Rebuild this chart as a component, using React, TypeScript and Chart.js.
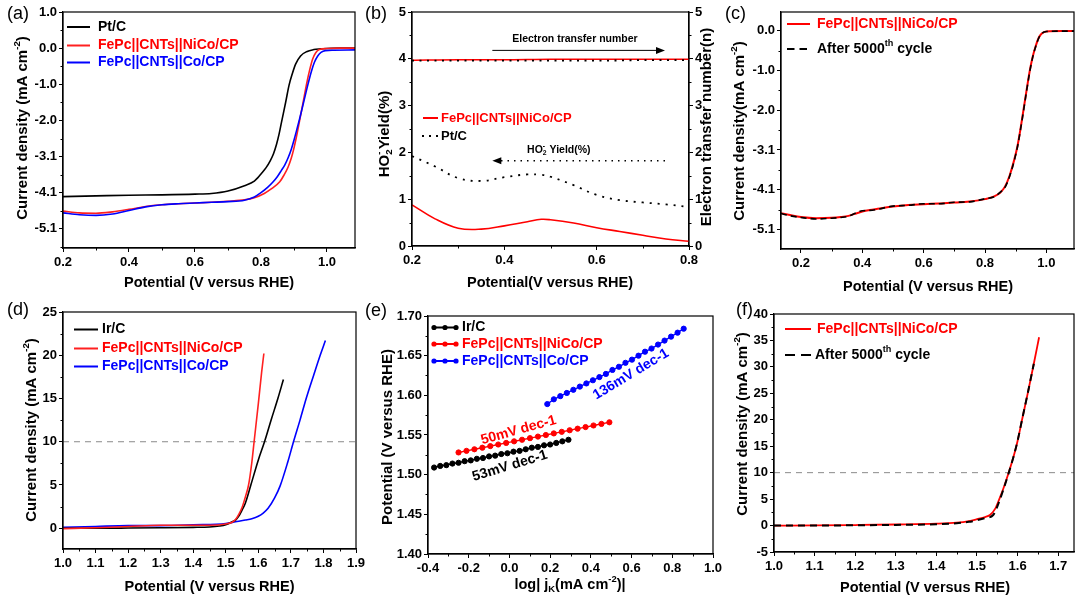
import React, { useEffect, useRef } from 'react';
import { Chart, registerables } from 'chart.js';

Chart.register(...registerables);

const W = 1080;
const H = 597;
const FONT = 'Arial, "Liberation Sans", Helvetica, sans-serif';
const RED = '#ff0000';
const BLUE = '#0000ff';
const BLACK = '#000000';
const GRAY = '#8a8a8a';

// ================= (a) ORR polarization =================
const aPotPt = [0.20, 0.30, 0.40, 0.50, 0.60, 0.65, 0.70, 0.75, 0.78, 0.79, 0.80, 0.815, 0.828, 0.838, 0.847, 0.855, 0.862, 0.875, 0.885, 0.895, 0.905, 0.92, 0.938, 0.96, 0.98, 1.00, 1.04, 1.085];
const aCurPt = [-4.19, -4.17, -4.15, -4.14, -4.12, -4.10, -4.03, -3.88, -3.75, -3.66, -3.55, -3.38, -3.18, -2.98, -2.72, -2.42, -2.10, -1.52, -1.05, -0.72, -0.45, -0.22, -0.10, -0.04, -0.02, -0.01, 0.0, 0.0];
const aPotNiCo = [0.20, 0.25, 0.30, 0.35, 0.40, 0.45, 0.50, 0.55, 0.60, 0.65, 0.70, 0.75, 0.78, 0.81, 0.83, 0.857, 0.87, 0.882, 0.892, 0.90, 0.908, 0.917, 0.928, 0.938, 0.948, 0.957, 0.966, 0.977, 1.00, 1.04, 1.085];
const aCurNiCo = [-4.60, -4.65, -4.66, -4.62, -4.55, -4.47, -4.42, -4.39, -4.37, -4.35, -4.32, -4.28, -4.22, -4.10, -3.98, -3.77, -3.58, -3.36, -3.10, -2.82, -2.48, -2.05, -1.52, -1.02, -0.60, -0.30, -0.13, -0.04, -0.01, 0.0, 0.0];
const aPotCo = [0.20, 0.25, 0.30, 0.35, 0.40, 0.45, 0.50, 0.55, 0.60, 0.65, 0.70, 0.75, 0.78, 0.80, 0.82, 0.837, 0.85, 0.862, 0.872, 0.882, 0.892, 0.90, 0.908, 0.917, 0.93, 0.943, 0.953, 0.962, 0.972, 0.982, 0.995, 1.02, 1.085];
const aCurCo = [-4.65, -4.70, -4.72, -4.68, -4.58, -4.48, -4.42, -4.39, -4.37, -4.35, -4.33, -4.29, -4.20, -4.08, -3.93, -3.77, -3.62, -3.45, -3.30, -3.10, -2.85, -2.60, -2.32, -2.00, -1.50, -1.00, -0.65, -0.40, -0.22, -0.12, -0.07, -0.06, -0.05];
const aXTicks = [0.2, 0.4, 0.6, 0.8, 1.0];
const aXLabels = ['0.2', '0.4', '0.6', '0.8', '1.0'];
const aYTicks = [-5.10, -4.08, -3.06, -2.04, -1.02, 0, 1.02];
const aYLabels = ['-5.1', '-4.1', '-3.1', '-2.0', '-1.0', '0.0', '1.0'];

// ================= (b) RRDE =================
const bPot = [0.20, 0.25, 0.30, 0.35, 0.40, 0.45, 0.48, 0.50, 0.55, 0.60, 0.65, 0.70, 0.75, 0.80];
const bYieldNiCo = [0.88, 0.58, 0.38, 0.36, 0.43, 0.52, 0.57, 0.56, 0.49, 0.39, 0.31, 0.23, 0.15, 0.10];
const bYieldPt = [1.92, 1.70, 1.45, 1.39, 1.47, 1.53, 1.52, 1.48, 1.30, 1.09, 0.98, 0.93, 0.89, 0.83];
const bNPot = [0.20, 0.30, 0.40, 0.50, 0.60, 0.70, 0.80];
const bNNiCo = [3.97, 3.98, 3.98, 3.99, 3.99, 3.99, 3.99];
const bNPt = [3.96, 3.96, 3.96, 3.96, 3.96, 3.97, 3.97];
const bXTicks = [0.2, 0.4, 0.6, 0.8];
const bXLabels = ['0.2', '0.4', '0.6', '0.8'];
const bYTicks = [0, 1, 2, 3, 4, 5];
const bYLabels = ['0', '1', '2', '3', '4', '5'];

// ================= (c) ORR stability =================
const cPot = [0.135, 0.16, 0.20, 0.25, 0.30, 0.33, 0.355, 0.375, 0.40, 0.425, 0.45, 0.50, 0.55, 0.60, 0.65, 0.70, 0.75, 0.80, 0.83, 0.85, 0.865, 0.88, 0.895, 0.906, 0.916, 0.926, 0.936, 0.946, 0.956, 0.965, 0.975, 0.985, 1.00, 1.05, 1.09];
const cCurFresh = [-4.68, -4.72, -4.78, -4.81, -4.80, -4.78, -4.75, -4.70, -4.64, -4.60, -4.57, -4.51, -4.47, -4.45, -4.43, -4.41, -4.38, -4.32, -4.25, -4.15, -4.00, -3.72, -3.32, -2.95, -2.50, -2.00, -1.50, -1.02, -0.65, -0.40, -0.18, -0.07, -0.02, -0.01, -0.01];
const cCurCycled = [-4.69, -4.74, -4.79, -4.83, -4.81, -4.79, -4.76, -4.69, -4.62, -4.61, -4.58, -4.50, -4.48, -4.44, -4.44, -4.40, -4.39, -4.31, -4.26, -4.14, -4.02, -3.74, -3.34, -2.97, -2.52, -2.03, -1.52, -1.04, -0.66, -0.41, -0.19, -0.07, -0.02, -0.01, -0.01];
const cXTicks = [0.2, 0.4, 0.6, 0.8, 1.0];
const cXLabels = ['0.2', '0.4', '0.6', '0.8', '1.0'];
const cYTicks = [-5.10, -4.08, -3.06, -2.04, -1.02, 0];
const cYLabels = ['-5.1', '-4.1', '-3.1', '-2.0', '-1.0', '0.0'];

// ================= (d) OER polarization =================
const dPotIr = [1.00, 1.10, 1.20, 1.30, 1.40, 1.45, 1.48, 1.50, 1.52, 1.53, 1.54, 1.55, 1.56, 1.577, 1.60, 1.619, 1.64, 1.66, 1.677];
const dCurIr = [0.00, 0.00, 0.02, 0.05, 0.10, 0.15, 0.25, 0.40, 0.75, 0.95, 1.40, 2.10, 2.90, 5.00, 7.90, 10.00, 12.60, 15.00, 17.20];
const dPotNiCo = [1.00, 1.10, 1.20, 1.30, 1.40, 1.45, 1.50, 1.52, 1.53, 1.54, 1.55, 1.56, 1.57, 1.58, 1.587, 1.60, 1.61, 1.617];
const dCurNiCo = [-0.05, 0.05, 0.20, 0.35, 0.35, 0.35, 0.50, 0.70, 1.00, 1.60, 2.40, 3.60, 5.00, 7.60, 10.00, 14.40, 18.00, 20.20];
const dPotCo = [1.00, 1.10, 1.20, 1.30, 1.40, 1.50, 1.53, 1.56, 1.58, 1.60, 1.615, 1.63, 1.65, 1.667, 1.69, 1.708, 1.728, 1.747, 1.77, 1.79, 1.806];
const dCurCo = [0.10, 0.20, 0.30, 0.30, 0.40, 0.55, 0.75, 0.95, 1.10, 1.38, 1.75, 2.30, 3.50, 4.90, 7.60, 10.00, 12.50, 15.00, 17.70, 20.00, 21.70];
const dRefPot = [1.0, 1.9];
const dRefCur = [10, 10];
const dXTicks = [1.0, 1.1, 1.2, 1.3, 1.4, 1.5, 1.6, 1.7, 1.8, 1.9];
const dXLabels = ['1.0', '1.1', '1.2', '1.3', '1.4', '1.5', '1.6', '1.7', '1.8', '1.9'];
const dYTicks = [0, 5, 10, 15, 20, 25];
const dYLabels = ['0', '5', '10', '15', '20', '25'];

// ================= (e) Tafel =================
const eLogIr = [-0.37, -0.34, -0.31, -0.28, -0.25, -0.22, -0.19, -0.16, -0.13, -0.10, -0.07, -0.04, -0.01, 0.02, 0.05, 0.08, 0.11, 0.14, 0.17, 0.20, 0.23, 0.26, 0.29];
const ePotIr = [1.509, 1.511, 1.512, 1.514, 1.515, 1.517, 1.518, 1.520, 1.521, 1.523, 1.524, 1.526, 1.527, 1.529, 1.530, 1.532, 1.534, 1.535, 1.537, 1.538, 1.540, 1.542, 1.544];
const eLogNiCo = [-0.25, -0.211, -0.172, -0.133, -0.094, -0.055, -0.016, 0.023, 0.062, 0.101, 0.14, 0.179, 0.218, 0.257, 0.296, 0.335, 0.374, 0.413, 0.452, 0.491];
const ePotNiCo = [1.528, 1.530, 1.532, 1.534, 1.536, 1.538, 1.540, 1.542, 1.544, 1.546, 1.548, 1.550, 1.552, 1.554, 1.556, 1.558, 1.560, 1.562, 1.564, 1.566];
const eLogCo = [0.186, 0.218, 0.25, 0.282, 0.314, 0.346, 0.378, 0.41, 0.442, 0.474, 0.506, 0.538, 0.57, 0.602, 0.634, 0.666, 0.698, 0.73, 0.762, 0.794, 0.826, 0.856];
const ePotCo = [1.589, 1.595, 1.599, 1.603, 1.607, 1.611, 1.615, 1.619, 1.623, 1.627, 1.632, 1.636, 1.641, 1.645, 1.650, 1.655, 1.659, 1.664, 1.669, 1.674, 1.679, 1.684];
const eXTicks = [-0.4, -0.2, 0, 0.2, 0.4, 0.6, 0.8, 1.0];
const eXLabels = ['-0.4', '-0.2', '0.0', '0.2', '0.4', '0.6', '0.8', '1.0'];
const eYTicks = [1.40, 1.45, 1.50, 1.55, 1.60, 1.65, 1.70];
const eYLabels = ['1.40', '1.45', '1.50', '1.55', '1.60', '1.65', '1.70'];

// ================= (f) OER stability =================
const fPot = [1.00, 1.10, 1.20, 1.30, 1.40, 1.45, 1.48, 1.50, 1.52, 1.532, 1.545, 1.555, 1.565, 1.578, 1.59, 1.60, 1.611, 1.625, 1.64, 1.653];
const fCurFresh = [0.00, 0.02, 0.10, 0.20, 0.35, 0.55, 0.85, 1.20, 1.60, 2.00, 3.20, 5.00, 7.00, 10.00, 13.00, 16.00, 20.00, 25.00, 30.60, 35.60];
const fPotCycled = [1.00, 1.10, 1.20, 1.30, 1.40, 1.45, 1.48, 1.50, 1.52, 1.54, 1.555, 1.565, 1.578, 1.59, 1.60, 1.611, 1.625, 1.64];
const fCurCycled = [0.00, 0.00, 0.05, 0.12, 0.25, 0.45, 0.70, 1.00, 1.40, 2.00, 4.60, 6.80, 9.90, 13.00, 16.00, 20.00, 25.00, 30.60];
const fRefPot = [1.0, 1.74];
const fRefCur = [10, 10];
const fXTicks = [1.0, 1.1, 1.2, 1.3, 1.4, 1.5, 1.6, 1.7];
const fXLabels = ['1.0', '1.1', '1.2', '1.3', '1.4', '1.5', '1.6', '1.7'];
const fYTicks = [-5, 0, 5, 10, 15, 20, 25, 30, 35, 40];
const fYLabels = ['-5', '0', '5', '10', '15', '20', '25', '30', '35', '40'];

// ================= helpers =================
type Seg = { t: string; sup?: boolean; sub?: boolean; stack?: boolean };

const plain = (t: string): Seg[] => [{ t }];
const cmUnit = (prefix: string): Seg[] => [{ t: prefix + '(mA cm' }, { t: '-2', sup: true }, { t: ')' }];
const afterCycle: Seg[] = [{ t: 'After 5000' }, { t: 'th', sup: true }, { t: ' cycle' }];
const NICO = 'FePc||CNTs||NiCo/CP';
const CO = 'FePc||CNTs||Co/CP';

function drawRich(
  ctx: CanvasRenderingContext2D,
  segs: Seg[],
  x: number,
  y: number,
  size: number,
  color: string,
  opts: { rot?: number; align?: 'left' | 'center'; weight?: string } = {}
) {
  const weight = opts.weight ?? 'bold';
  const small = size * 0.65;
  ctx.save();
  ctx.translate(x, y);
  ctx.rotate(opts.rot ?? 0);
  ctx.fillStyle = color;
  ctx.textBaseline = 'middle';
  ctx.textAlign = 'left';
  let total = 0;
  let lastStart = 0;
  let lastW = 0;
  const items: { s: Seg; sx: number; fs: number }[] = [];
  for (const s of segs) {
    const fs = s.sup || s.sub ? small : size;
    ctx.font = `${weight} ${fs}px ${FONT}`;
    const w = ctx.measureText(s.t).width;
    let sx: number;
    if (s.stack) {
      sx = lastStart;
      total = lastStart + Math.max(lastW, w);
    } else {
      sx = total;
      lastStart = sx;
      lastW = w;
      total += w;
    }
    items.push({ s, sx, fs });
  }
  const x0 = (opts.align ?? 'center') === 'center' ? -total / 2 : 0;
  for (const it of items) {
    ctx.font = `${weight} ${it.fs}px ${FONT}`;
    const dy = it.s.sup ? -size * 0.36 : it.s.sub ? size * 0.3 : 0;
    ctx.fillText(it.s.t, x0 + it.sx, dy);
  }
  ctx.restore();
}

interface AxisSpec {
  min: number;
  max: number;
  ticks: number[];
  labels: string[];
  minor: number;
}
interface LegendItem {
  segs: Seg[];
  color: string;
  line: string;
  style: 'solid' | 'dash' | 'dot' | 'marker';
  x0: number;
  x1: number;
  y: number;
  tx: number;
  size: number;
  dash?: number[];
}
interface TextNote {
  segs: Seg[];
  x: number;
  y: number;
  axis: string;
  rot: number;
  color: string;
  size: number;
}
interface ArrowNote {
  x0: number;
  x1: number;
  y: number;
  axis: string;
  dotted: boolean;
}
interface Title {
  segs: Seg[];
  x: number;
  y: number;
}
interface Deco {
  label: { t: string; x: number; y: number };
  xTitle: Title;
  yTitle: Title;
  y1Title?: Title;
  legend: LegendItem[];
  texts?: TextNote[];
  arrows?: ArrowNote[];
}
interface PanelSpec {
  plot: [number, number, number, number];
  x: AxisSpec;
  y: AxisSpec;
  y1?: AxisSpec;
  datasets: any[];
  deco: Deco;
}

function minorValues(a: AxisSpec) {
  const out: number[] = [];
  const k0 = Math.ceil(a.min / a.minor - 1e-6);
  const k1 = Math.floor(a.max / a.minor + 1e-6);
  for (let k = k0; k <= k1; k++) {
    const v = k * a.minor;
    if (a.ticks.some((m) => Math.abs(m - v) < a.minor * 0.05)) continue;
    out.push(v);
  }
  return out;
}

function decoPlugin(spec: PanelSpec) {
  const d = spec.deco;
  return {
    id: 'deco',
    afterDraw(chart: any) {
      const ctx: CanvasRenderingContext2D = chart.ctx;
      const ca = chart.chartArea;
      const sc = chart.scales;
      ctx.save();
      // frame
      ctx.setLineDash([]);
      ctx.strokeStyle = '#000';
      ctx.lineWidth = 1.2;
      ctx.strokeRect(ca.left, ca.top, ca.right - ca.left, ca.bottom - ca.top);
      // minor ticks
      ctx.lineWidth = 1;
      ctx.beginPath();
      for (const v of minorValues(spec.x)) {
        const px = Math.round(sc.x.getPixelForValue(v)) + 0.5;
        ctx.moveTo(px, ca.bottom);
        ctx.lineTo(px, ca.bottom + 2.5);
      }
      for (const v of minorValues(spec.y)) {
        const py = Math.round(sc.y.getPixelForValue(v)) + 0.5;
        ctx.moveTo(ca.left - 2.5, py);
        ctx.lineTo(ca.left, py);
      }
      if (spec.y1) {
        for (const v of minorValues(spec.y1)) {
          const py = Math.round(sc.y1.getPixelForValue(v)) + 0.5;
          ctx.moveTo(ca.right, py);
          ctx.lineTo(ca.right + 2.5, py);
        }
      }
      ctx.stroke();
      // panel label
      ctx.fillStyle = '#000';
      ctx.font = `18px ${FONT}`;
      ctx.textBaseline = 'middle';
      ctx.textAlign = 'left';
      ctx.fillText(d.label.t, d.label.x, d.label.y);
      // axis titles
      drawRich(ctx, d.xTitle.segs, d.xTitle.x, d.xTitle.y, 14.5, '#000');
      drawRich(ctx, d.yTitle.segs, d.yTitle.x, d.yTitle.y, 15, '#000', { rot: -Math.PI / 2 });
      if (d.y1Title) drawRich(ctx, d.y1Title.segs, d.y1Title.x, d.y1Title.y, 15, '#000', { rot: -Math.PI / 2 });
      // legend
      for (const it of d.legend) {
        ctx.strokeStyle = it.line;
        ctx.fillStyle = it.line;
        ctx.lineWidth = 2;
        if (it.style === 'dot') {
          for (let i = 0; i < 3; i++) {
            const px = it.x0 + (i * (it.x1 - it.x0)) / 2;
            ctx.fillRect(px - 1, it.y - 1, 2, 2);
          }
        } else {
          ctx.setLineDash(it.style === 'dash' ? it.dash ?? [7.5, 5] : []);
          ctx.beginPath();
          ctx.moveTo(it.x0, it.y);
          ctx.lineTo(it.x1, it.y);
          ctx.stroke();
          ctx.setLineDash([]);
          if (it.style === 'marker') {
            for (const mx of [it.x0, (it.x0 + it.x1) / 2, it.x1]) {
              ctx.beginPath();
              ctx.arc(mx, it.y, 2.6, 0, Math.PI * 2);
              ctx.fill();
            }
          }
        }
        drawRich(ctx, it.segs, it.tx, it.y, it.size, it.color, { align: 'left' });
      }
      // arrows
      for (const a of d.arrows ?? []) {
        const x0 = sc.x.getPixelForValue(a.x0);
        const x1 = sc.x.getPixelForValue(a.x1);
        const py = sc[a.axis].getPixelForValue(a.y);
        const dir = Math.sign(x1 - x0);
        ctx.strokeStyle = '#000';
        ctx.fillStyle = '#000';
        ctx.lineWidth = a.dotted ? 1.5 : 1;
        ctx.setLineDash(a.dotted ? [1.5, 5] : []);
        ctx.beginPath();
        ctx.moveTo(x0, py);
        ctx.lineTo(x1 - dir * 8, py);
        ctx.stroke();
        ctx.setLineDash([]);
        ctx.beginPath();
        ctx.moveTo(x1, py);
        ctx.lineTo(x1 - dir * 9, py - 3.5);
        ctx.lineTo(x1 - dir * 9, py + 3.5);
        ctx.closePath();
        ctx.fill();
      }
      // text notes
      for (const t of d.texts ?? []) {
        const px = sc.x.getPixelForValue(t.x);
        const py = sc[t.axis].getPixelForValue(t.y);
        drawRich(ctx, t.segs, px, py, t.size, t.color, { rot: (t.rot * Math.PI) / 180 });
      }
      ctx.restore();
    },
  };
}

function axisOpts(a: AxisSpec, kind: 'x' | 'y' | 'y1', plot: [number, number, number, number]) {
  const [L, , R, B] = plot;
  return {
    type: 'linear',
    position: kind === 'x' ? 'bottom' : kind === 'y' ? 'left' : 'right',
    min: a.min,
    max: a.max,
    bounds: 'data',
    afterBuildTicks: (s: any) => {
      s.ticks = a.ticks.map((v) => ({ value: v }));
    },
    afterFit: (s: any) => {
      if (kind === 'x') s.height = H - B;
      else if (kind === 'y') s.width = L;
      else s.width = W - R;
      s.paddingLeft = 0;
      s.paddingRight = 0;
      s.paddingTop = 0;
      s.paddingBottom = 0;
    },
    ticks: {
      autoSkip: false,
      maxRotation: 0,
      minRotation: 0,
      color: '#000',
      padding: kind === 'x' ? 3 : 2,
      font: { family: FONT, size: 13, weight: 'bold' },
      callback: (_v: any, i: number) => a.labels[i],
    },
    grid: { display: true, drawOnChartArea: false, drawTicks: true, tickLength: 4, color: '#000', lineWidth: 1 },
    border: { display: true, color: '#000', width: 1.2 },
    title: { display: false },
  };
}

function series(xs: number[], ys: number[], color: string, extra: any = {}) {
  return {
    data: xs.map((x, i) => ({ x, y: ys[i] })),
    borderColor: color,
    backgroundColor: color,
    borderWidth: 1.6,
    pointRadius: 0,
    fill: false,
    cubicInterpolationMode: 'monotone',
    ...extra,
  };
}

const smooth = { cubicInterpolationMode: 'default', tension: 0.4 };

function buildConfig(spec: PanelSpec) {
  const [, T, R] = spec.plot;
  const scales: any = { x: axisOpts(spec.x, 'x', spec.plot), y: axisOpts(spec.y, 'y', spec.plot) };
  if (spec.y1) scales.y1 = axisOpts(spec.y1, 'y1', spec.plot);
  return {
    type: 'line',
    data: { datasets: spec.datasets },
    options: {
      responsive: false,
      animation: false,
      events: [],
      layout: { padding: { left: 0, top: T, right: spec.y1 ? 0 : W - R, bottom: 0 } },
      plugins: { legend: { display: false }, tooltip: { enabled: false } },
      scales,
    },
    plugins: [decoPlugin(spec)],
  } as any;
}

// ================= panel specs =================
const panelA: PanelSpec = {
  plot: [63, 12, 355, 248],
  x: { min: 0.2, max: 1.085, ticks: aXTicks, labels: aXLabels, minor: 0.1 },
  y: { min: -5.64, max: 1.02, ticks: aYTicks, labels: aYLabels, minor: 0.51 },
  datasets: [
    series(aPotCo, aCurCo, BLUE),
    series(aPotNiCo, aCurNiCo, '#ff2020'),
    series(aPotPt, aCurPt, BLACK),
  ],
  deco: {
    label: { t: '(a)', x: 7, y: 14 },
    xTitle: { segs: plain('Potential (V versus RHE)'), x: 209, y: 283 },
    yTitle: { segs: cmUnit('Current density '), x: 23, y: 128 },
    legend: [
      { segs: plain('Pt/C'), color: BLACK, line: BLACK, style: 'solid', x0: 67, x1: 90, y: 27, tx: 98, size: 14 },
      { segs: plain(NICO), color: RED, line: '#ff2020', style: 'solid', x0: 67, x1: 90, y: 45.5, tx: 98, size: 14 },
      { segs: plain(CO), color: BLUE, line: BLUE, style: 'solid', x0: 67, x1: 90, y: 62.5, tx: 98, size: 14 },
    ],
  },
};

const panelB: PanelSpec = {
  plot: [412, 12, 689, 246],
  x: { min: 0.2, max: 0.8, ticks: bXTicks, labels: bXLabels, minor: 0.1 },
  y: { min: 0, max: 5, ticks: bYTicks, labels: bYLabels, minor: 0.5 },
  y1: { min: 0, max: 5, ticks: bYTicks, labels: bYLabels, minor: 0.5 },
  datasets: [
    series(bNPot, bNPt, BLACK, { yAxisID: 'y1', borderDash: [2, 5.5], borderWidth: 1.8 }),
    series(bNPot, bNNiCo, RED, { yAxisID: 'y1', borderWidth: 1.5 }),
    series(bPot, bYieldNiCo, RED, { borderWidth: 1.6, ...smooth }),
    series(bPot, bYieldPt, BLACK, { borderDash: [2, 6], borderWidth: 1.8, ...smooth }),
  ],
  deco: {
    label: { t: '(b)', x: 365, y: 14 },
    xTitle: { segs: plain('Potential(V versus RHE)'), x: 550, y: 283 },
    yTitle: { segs: [{ t: 'HO' }, { t: '2', sub: true }, { t: '-', sup: true, stack: true }, { t: 'Yield(%)' }], x: 385, y: 134 },
    y1Title: { segs: plain('Electron transfer number(n)'), x: 707, y: 127 },
    legend: [
      { segs: plain(NICO), color: RED, line: RED, style: 'solid', x0: 423, x1: 438, y: 118, tx: 441, size: 13 },
      { segs: plain('Pt/C'), color: BLACK, line: BLACK, style: 'dot', x0: 423, x1: 437, y: 136, tx: 441, size: 13 },
    ],
    texts: [
      { segs: plain('Electron transfer number'), x: 0.553, y: 4.42, axis: 'y', rot: 0, color: BLACK, size: 10.5 },
      { segs: [{ t: 'HO' }, { t: '2', sub: true }, { t: '-', sup: true, stack: true }, { t: ' Yield(%)' }], x: 0.518, y: 2.05, axis: 'y', rot: 0, color: BLACK, size: 10.5 },
    ],
    arrows: [
      { x0: 0.374, x1: 0.748, y: 4.18, axis: 'y', dotted: false },
      { x0: 0.748, x1: 0.374, y: 1.82, axis: 'y', dotted: true },
    ],
  },
};

const panelC: PanelSpec = {
  plot: [781, 12, 1074, 249],
  x: { min: 0.135, max: 1.09, ticks: cXTicks, labels: cXLabels, minor: 0.1 },
  y: { min: -5.6, max: 0.48, ticks: cYTicks, labels: cYLabels, minor: 0.51 },
  datasets: [
    series(cPot, cCurCycled, BLACK, { borderDash: [6, 4], borderWidth: 1.6 }),
    series(cPot, cCurFresh, RED, { borderWidth: 2 }),
  ],
  deco: {
    label: { t: '(c)', x: 725, y: 14 },
    xTitle: { segs: plain('Potential (V versus RHE)'), x: 928, y: 287 },
    yTitle: { segs: cmUnit('Current density'), x: 740, y: 131 },
    legend: [
      { segs: plain(NICO), color: RED, line: RED, style: 'solid', x0: 787, x1: 810, y: 24, tx: 817, size: 14 },
      { segs: afterCycle, color: BLACK, line: BLACK, style: 'dash', dash: [7.5, 5], x0: 787, x1: 810, y: 49, tx: 817, size: 14 },
    ],
  },
};

const panelD: PanelSpec = {
  plot: [63, 312, 356, 549],
  x: { min: 1.0, max: 1.9, ticks: dXTicks, labels: dXLabels, minor: 0.05 },
  y: { min: -2.4, max: 25, ticks: dYTicks, labels: dYLabels, minor: 2.5 },
  datasets: [
    series(dPotNiCo, dCurNiCo, '#ff2020'),
    series(dPotIr, dCurIr, BLACK),
    series(dPotCo, dCurCo, BLUE),
    series(dRefPot, dRefCur, GRAY, { borderDash: [6, 5], borderWidth: 1 }),
  ],
  deco: {
    label: { t: '(d)', x: 7, y: 310 },
    xTitle: { segs: plain('Potential (V versus RHE)'), x: 209.5, y: 586.5 },
    yTitle: { segs: cmUnit('Current density '), x: 31.5, y: 430 },
    legend: [
      { segs: plain('Ir/C'), color: BLACK, line: BLACK, style: 'solid', x0: 74, x1: 98, y: 329.5, tx: 102, size: 14 },
      { segs: plain(NICO), color: RED, line: '#ff2020', style: 'solid', x0: 74, x1: 98, y: 348.5, tx: 102, size: 14 },
      { segs: plain(CO), color: BLUE, line: BLUE, style: 'solid', x0: 74, x1: 98, y: 366.5, tx: 102, size: 14 },
    ],
  },
};

const markerLine = (xs: number[], ys: number[], color: string) =>
  series(xs, ys, color, {
    borderWidth: 1.4,
    pointRadius: 2.6,
    pointBackgroundColor: color,
    pointBorderColor: color,
    pointBorderWidth: 1,
    cubicInterpolationMode: 'default',
    tension: 0,
  });

const panelE: PanelSpec = {
  plot: [428, 316, 713, 554],
  x: { min: -0.4, max: 1.0, ticks: eXTicks, labels: eXLabels, minor: 0.1 },
  y: { min: 1.4, max: 1.7, ticks: eYTicks, labels: eYLabels, minor: 0.025 },
  datasets: [markerLine(eLogIr, ePotIr, BLACK), markerLine(eLogNiCo, ePotNiCo, RED), markerLine(eLogCo, ePotCo, BLUE)],
  deco: {
    label: { t: '(e)', x: 365, y: 311 },
    xTitle: { segs: [{ t: 'log| j' }, { t: 'K', sub: true }, { t: '(mA cm' }, { t: '-2', sup: true }, { t: ')|' }], x: 570, y: 585 },
    yTitle: { segs: plain('Potential (V versus RHE)'), x: 388, y: 437 },
    legend: [
      { segs: plain('Ir/C'), color: BLACK, line: BLACK, style: 'marker', x0: 434, x1: 456, y: 327.5, tx: 462, size: 14 },
      { segs: plain(NICO), color: RED, line: RED, style: 'marker', x0: 434, x1: 456, y: 344, tx: 462, size: 14 },
      { segs: plain(CO), color: BLUE, line: BLUE, style: 'marker', x0: 434, x1: 456, y: 361, tx: 462, size: 14 },
    ],
    texts: [
      { segs: plain('136mV dec-1'), x: 0.597, y: 1.6265, axis: 'y', rot: -31, color: BLUE, size: 14 },
      { segs: plain('50mV dec-1'), x: 0.045, y: 1.556, axis: 'y', rot: -15.5, color: RED, size: 14 },
      { segs: plain('53mV dec-1'), x: 0.002, y: 1.511, axis: 'y', rot: -17, color: BLACK, size: 14 },
    ],
  },
};

const panelF: PanelSpec = {
  plot: [774, 314, 1074, 552],
  x: { min: 1.0, max: 1.739, ticks: fXTicks, labels: fXLabels, minor: 0.05 },
  y: { min: -5, max: 40, ticks: fYTicks, labels: fYLabels, minor: 2.5 },
  datasets: [
    series(fPotCycled, fCurCycled, BLACK, { borderDash: [7, 5], borderWidth: 2 }),
    series(fPot, fCurFresh, RED, { borderWidth: 1.8 }),
    series(fRefPot, fRefCur, GRAY, { borderDash: [6, 5], borderWidth: 1 }),
  ],
  deco: {
    label: { t: '(f)', x: 736, y: 310 },
    xTitle: { segs: plain('Potential (V versus RHE)'), x: 925, y: 588 },
    yTitle: { segs: cmUnit('Current density '), x: 743, y: 424 },
    legend: [
      { segs: plain(NICO), color: RED, line: RED, style: 'solid', x0: 785, x1: 811, y: 329, tx: 817, size: 14 },
      { segs: afterCycle, color: BLACK, line: BLACK, style: 'dash', dash: [10, 6], x0: 785, x1: 811, y: 355, tx: 815, size: 14 },
    ],
  },
};

const PANELS: PanelSpec[] = [panelA, panelB, panelC, panelD, panelE, panelF];

function Panel({ spec }: { spec: PanelSpec }) {
  const ref = useRef<HTMLCanvasElement>(null);
  useEffect(() => {
    if (!ref.current) return;
    const chart = new Chart(ref.current, buildConfig(spec));
    return () => chart.destroy();
  }, [spec]);
  return (
    <canvas
      ref={ref}
      width={W}
      height={H}
      style={{ position: 'absolute', left: 0, top: 0, width: W, height: H }}
    />
  );
}

export default function App() {
  return (
    <div style={{ position: 'fixed', left: 0, top: 0, width: W, height: H, background: '#ffffff', overflow: 'hidden' }}>
      {PANELS.map((p, i) => (
        <Panel key={i} spec={p} />
      ))}
    </div>
  );
}
